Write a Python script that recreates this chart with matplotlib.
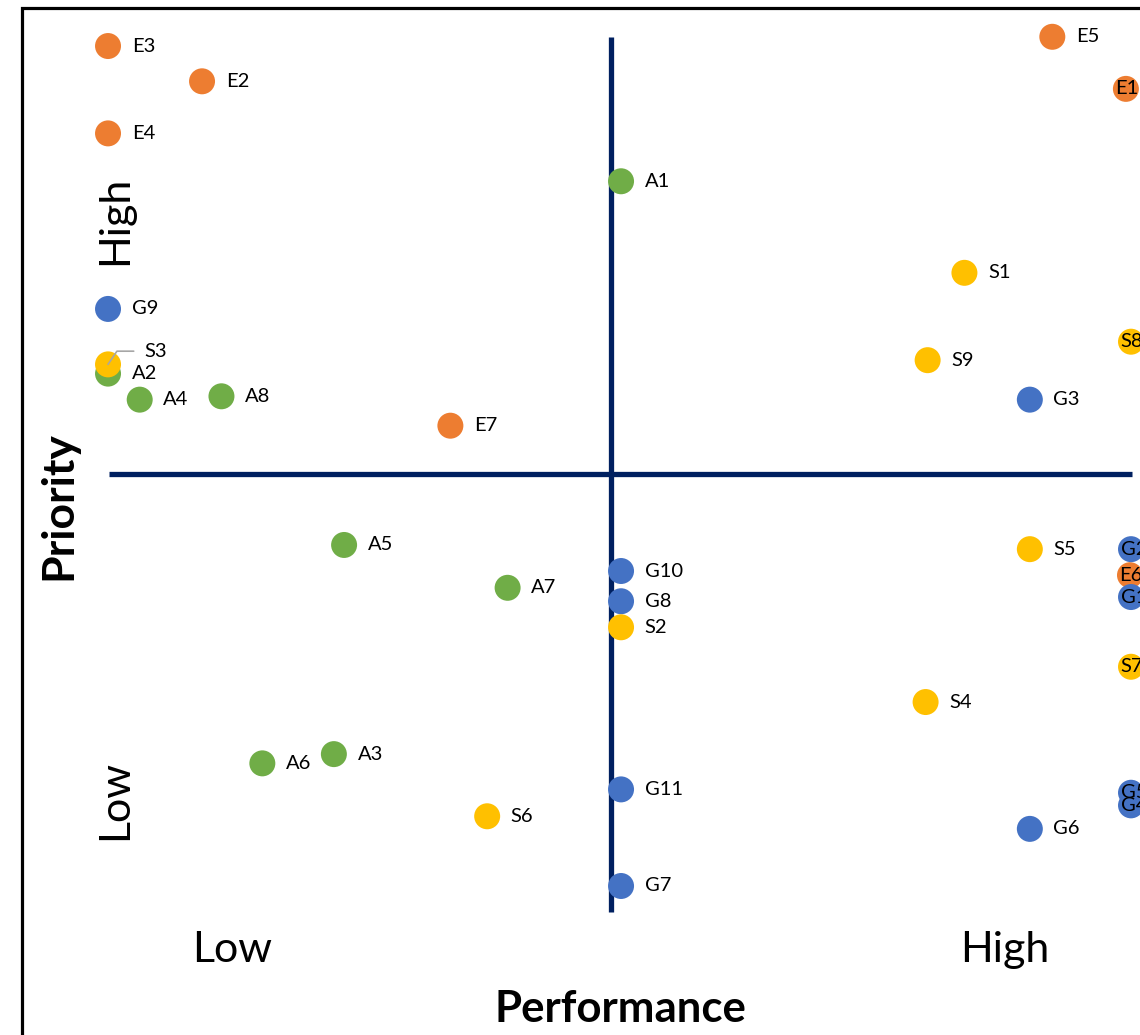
import matplotlib.pyplot as plt
from matplotlib.patches import Rectangle

# --- data: performance (x) and priority (y) ---
e_labels = ['E1', 'E2', 'E3', 'E4', 'E5', 'E6', 'E7']
e_perf = [9.96, 0.92, 0.0, 0.0, 9.24, 10.0, 3.35]
e_prio = [9.49, 9.58, 10.0, 8.96, 10.11, 3.70, 5.48]

g_labels = ['G1', 'G2', 'G3', 'G4', 'G5', 'G6', 'G7', 'G8', 'G9', 'G10', 'G11']
g_perf = [10.01, 10.01, 9.02, 10.01, 10.01, 9.02, 5.02, 5.02, 0.0, 5.02, 5.02]
g_prio = [3.44, 4.01, 5.79, 0.96, 1.11, 0.68, 0.0, 3.39, 6.87, 3.75, 1.15]

a_labels = ['A1', 'A2', 'A3', 'A4', 'A5', 'A6', 'A7', 'A8']
a_perf = [5.02, 0.0, 2.21, 0.31, 2.31, 1.51, 3.91, 1.11]
a_prio = [8.39, 6.10, 1.57, 5.79, 4.06, 1.46, 3.55, 5.83]

s_labels = ['S1', 'S2', 'S3', 'S4', 'S5', 'S6', 'S7', 'S8', 'S9']
s_perf = [8.38, 5.02, 0.0, 8.00, 9.02, 3.71, 10.01, 10.01, 8.02]
s_prio = [7.30, 3.08, 6.21, 2.19, 4.01, 0.83, 2.61, 6.48, 6.26]

# quadrant divider positions
x_mid = 4.92
y_mid = 4.905

plt.rcParams['font.family'] = ['Lato', 'DejaVu Sans']

fig = plt.figure(figsize=(11.4, 10.35), dpi=100)
ax = fig.add_axes([0, 0, 1, 1])
ax.set_xlim(-1.057, 10.098)
ax.set_ylim(-1.774, 10.548)
ax.axis('off')

# outer chart border (runs off the right and bottom edges)
fig.patches.append(Rectangle((21.5 / 1140, -0.1), 1.2, 1.1 - 8.5 / 1035,
                             transform=fig.transFigure, fill=False,
                             edgecolor='black', linewidth=2.3, clip_on=False))

# quadrant lines
ax.plot([x_mid, x_mid], [-0.31, 10.107], color='#002060', lw=3.8,
        solid_capstyle='butt', zorder=1)
ax.plot([0.01, 10.02], [y_mid, y_mid], color='#002060', lw=3.8,
        solid_capstyle='butt', zorder=1)

series = [
    (e_labels, e_perf, e_prio, '#ED7D31'),
    (g_labels, g_perf, g_prio, '#4472C4'),
    (a_labels, a_perf, a_prio, '#70AD47'),
    (s_labels, s_perf, s_prio, '#FFC000'),
]

lab_size = 14.5
for z, (labels, xs, ys, col) in enumerate(series):
    ax.scatter(xs, ys, s=350, color=col, edgecolors='none', zorder=2 + z)
    for lab, x, y in zip(labels, xs, ys):
        if lab == 'S3':
            ax.annotate(lab, (x, y), xytext=(26.5, 9.5), textcoords='offset points',
                        fontsize=lab_size, ha='left', va='center', zorder=10,
                        arrowprops=dict(arrowstyle='-', color='#A6A6A6', lw=1.2,
                                        shrinkA=6, shrinkB=0, relpos=(0, 0.5),
                                        connectionstyle='angle,angleA=0,angleB=56,rad=0'))
        elif x > 9.9:
            # labels squeezed against the right edge, as in the original
            ax.annotate(lab, (x, y), xytext=(-7.5, 0), textcoords='offset points',
                        fontsize=lab_size, ha='left', va='center', zorder=10)
        else:
            ax.annotate(lab, (x, y), xytext=(17, 0), textcoords='offset points',
                        fontsize=lab_size, ha='left', va='center', zorder=10)

# axis titles and quadrant labels
ax.text(5.01, -1.47, 'Performance', fontsize=31.5, fontweight='bold',
        ha='center', va='center')
ax.text(-0.49, 4.53, 'Priority', fontsize=32, fontweight='bold',
        ha='center', va='center', rotation=90)
ax.text(1.21, -0.76, 'Low', fontsize=31, ha='center', va='center')
ax.text(8.78, -0.76, 'High', fontsize=31, ha='center', va='center')
ax.text(0.07, 7.92, 'High', fontsize=31, ha='center', va='center', rotation=90)
ax.text(0.07, 1.02, 'Low', fontsize=31, ha='center', va='center', rotation=90)

fig.savefig('out.png', dpi=100)
